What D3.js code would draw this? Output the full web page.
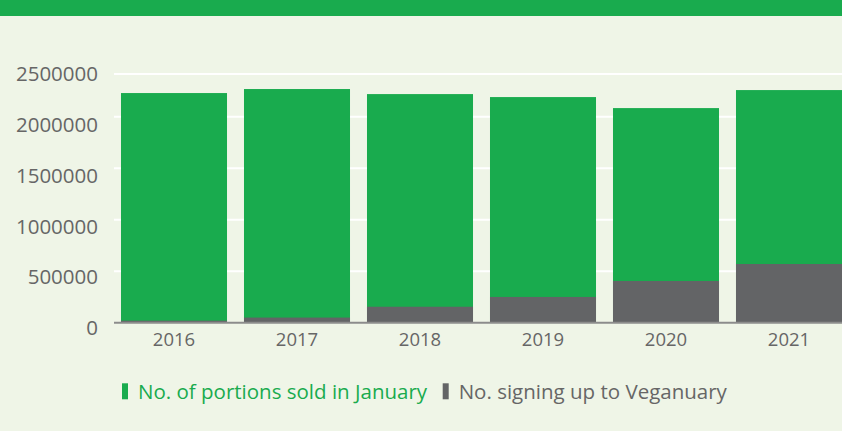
<!DOCTYPE html>
<html>
<head>
<meta charset="utf-8">
<script src="https://cdn.jsdelivr.net/npm/d3@7"></script>
<style>
  html, body { margin: 0; padding: 0; background: #eff5e7; }
  svg { display: block; font-family: 'Open Sans', sans-serif; }
</style>
</head>
<body>
<svg id="chart" width="842" height="431"></svg>
<script>
const years = ['2016', '2017', '2018', '2019', '2020', '2021']
const portionsSold = [2230000, 2269000, 2220000, 2191000, 2084000, 2259000]
const veganuarySignups = [20000, 50000, 155000, 250000, 405000, 570000]
const yTicks = [0, 500000, 1000000, 1500000, 2000000, 2500000]
const legendLabels = ['No. of portions sold in January', 'No. signing up to Veganuary']

const green = '#19ab4e'
const grey = '#636466'

const svg = d3.select('#chart')

// header strip (title cut off in the source)
svg.append('rect')
  .attr('x', 0).attr('y', 0)
  .attr('width', 842).attr('height', 16)
  .attr('fill', green)

const x = d3.scaleBand()
  .domain(years)
  .range([112.5, 850.5])
  .paddingInner(0.138)
  .paddingOuter(0.069)

// top tick sits at the plot top, so clamp it
const y = d3.scaleLinear()
  .domain([0, 2415000])
  .range([322.7, 74])
  .clamp(true)

// tick labels are spaced evenly, a bit below their lines
const yLabel = d3.scaleLinear()
  .domain([0, 2500000])
  .range([328, 74.2])

// gridlines
svg.append('g')
  .selectAll('line')
  .data(yTicks.slice(1))
  .enter()
  .append('line')
  .attr('x1', 114).attr('x2', 842)
  .attr('y1', d => y(d)).attr('y2', d => y(d))
  .attr('stroke', '#ffffff')
  .attr('stroke-width', 2)

// bars: portions behind, sign-ups in front
const bars = svg.append('g')
bars.selectAll('.portions')
  .data(years)
  .enter()
  .append('rect')
  .attr('class', 'portions')
  .attr('x', d => x(d))
  .attr('width', x.bandwidth())
  .attr('y', (d, i) => y(portionsSold[i]))
  .attr('height', (d, i) => y(0) - y(portionsSold[i]))
  .attr('fill', green)

bars.selectAll('.signups')
  .data(years)
  .enter()
  .append('rect')
  .attr('class', 'signups')
  .attr('x', d => x(d))
  .attr('width', x.bandwidth())
  .attr('y', (d, i) => y(veganuarySignups[i]))
  .attr('height', (d, i) => y(0) - y(veganuarySignups[i]))
  .attr('fill', grey)

// baseline
svg.append('line')
  .attr('x1', 114).attr('x2', 842)
  .attr('y1', y(0)).attr('y2', y(0))
  .attr('stroke', '#8c8c8c')
  .attr('stroke-width', 2)

// y axis labels
const yAxis = svg.append('g')
  .attr('transform', 'translate(98,0)')
  .call(d3.axisLeft(yLabel).tickValues(yTicks).tickSize(0).tickPadding(0).tickFormat(d3.format('d')))
yAxis.select('.domain').remove()
yAxis.selectAll('text')
  .attr('fill', '#666666')
  .style('font-size', '20.5px')
  .style('font-family', "'Open Sans', sans-serif")

// x axis labels
const xAxis = svg.append('g')
  .attr('transform', 'translate(0,' + y(0) + ')')
  .call(d3.axisBottom(x).tickSize(0).tickPadding(10))
xAxis.select('.domain').remove()
xAxis.selectAll('text')
  .attr('fill', '#666666')
  .style('font-size', '18.5px')
  .style('font-family', "'Open Sans', sans-serif")

// legend
const legend = svg.append('g').attr('class', 'legend')
const legendX = [122, 442.7]
const legendColors = [green, grey]
const legendText = [green, '#666666']

legendLabels.forEach((label, i) => {
  legend.append('rect')
    .attr('x', legendX[i]).attr('y', 383.3)
    .attr('width', 6).attr('height', 16)
    .attr('fill', legendColors[i])
  legend.append('text')
    .attr('x', legendX[i] + 16).attr('y', 399.3)
    .attr('fill', legendText[i])
    .style('font-size', '20.5px')
    .text(label)
})
</script>
</body>
</html>
